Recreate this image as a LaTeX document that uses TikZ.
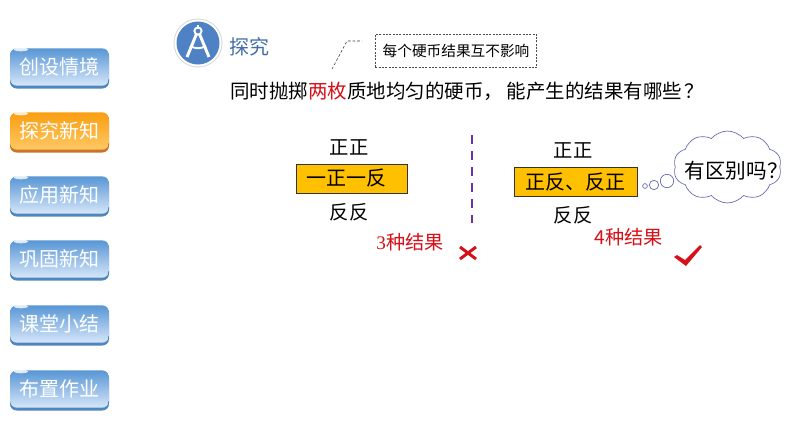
\documentclass[tikz,border=0pt]{standalone}
\usepackage{fontspec}
\setmainfont{Noto Sans CJK SC}
\newfontfamily\numfont{Liberation Serif}
\usetikzlibrary{
  arrows.meta,
  positioning,
  shapes.symbols
}
\definecolor{navblue}{RGB}{88,150,212}
\definecolor{navlight}{RGB}{214,230,250}
\definecolor{navedge}{RGB}{78,134,190}
\definecolor{navorange}{RGB}{250,158,16}
\definecolor{navpale}{RGB}{255,200,100}
\definecolor{navrust}{RGB}{205,115,40}
\definecolor{boxgold}{RGB}{255,192,0}
\definecolor{iconblue}{RGB}{78,130,196}
\definecolor{marksred}{RGB}{214,16,24}
\definecolor{divider}{RGB}{112,48,160}
\tikzset{
  navbtn/.style={rounded corners=5pt, minimum width=74pt, minimum height=28pt,
    inner sep=0pt, font=\fontsize{15}{15}\selectfont, text=white},
  answer/.style={inner sep=0pt, font=\fontsize{14.5}{15}\selectfont},
  goldbox/.style={draw=black!80, fill=boxgold, inner sep=0pt, minimum height=22pt,
    font=\fontsize{15}{15}\selectfont},
  result/.style={inner sep=0pt, text=marksred, font=\fontsize{14.4}{15}\selectfont},
  bubble/.style={circle, draw=black!50!blue!60, fill=white, inner sep=0pt, line width=0.5pt}
}
\begin{document}
\begin{tikzpicture}[x=0.75pt, y=-0.75pt]
\useasboundingbox (0,0) rectangle (794,447);
\fill[white] (0,0) rectangle (794,447);

% Left menu
\foreach \name/\ypos/\label/\base/\pale/\edge in {
    nava/67/创设情境/navblue/navlight/navedge,
    navb/131/探究新知/navorange/navpale/navrust,
    navc/195/应用新知/navblue/navlight/navedge,
    navd/259/巩固新知/navblue/navlight/navedge,
    nave/324/课堂小结/navblue/navlight/navedge,
    navf/389/布置作业/navblue/navlight/navedge} {
  \fill[\edge, rounded corners=5pt] (10,\ypos-18) rectangle (109,\ypos+21.5);
  \node[navbtn, top color=\base, bottom color=\pale] (\name) at (59.5,\ypos) {\label};
  \fill[white, opacity=0.8] (21,\ypos-17.5) ellipse (7 and 1.8);
}

% Icon and heading
\fill[black!15] (198,43) circle (24.5);
\fill[white] (198,43) circle (23.5);
\fill[iconblue] (198,43) circle (21.5);
\draw[white, line width=1.6pt] (198,25) -- (198,29);
\draw[white, line width=1.4pt] (198,31) circle (3.6);
\draw[white, line width=2.2pt] (196.5,34) -- (187,57);
\draw[white, line width=2.2pt] (199.5,34) -- (209,57);
\draw[white, line width=1.4pt] (190,46) .. controls (196,49) and (200,49) .. (206,46);
\node[inner sep=0pt, text=iconblue!85!black, font=\fontsize{15}{15}\selectfont] (heading) at (249,47) {探究};

% Note
\node[draw=black!70, dash pattern=on 1.5pt off 1pt, line width=0.6pt, inner sep=0pt, minimum width=121pt, minimum height=25pt,
      font=\fontsize{11}{12}\selectfont] (note) at (456,51) {每个硬币结果互不影响};
\draw[black!80, dash pattern=on 2pt off 1.5pt, line width=0.4pt] (332,69) -- (347,41) -- (362,41);

% Question
\node[inner sep=0pt, font=\fontsize{14.6}{16}\selectfont] (question) at (467,91)
  {同时抛掷\textcolor{marksred}{两枚}质地均匀的硬币，\kern3pt 能产生的结果有哪些\kern1.5pt ？};

% Left answer
\node[answer] (lefttop) at (349,147) {正正};
\node[goldbox, minimum width=83pt] (leftbox) at (351.5,178.5) {\kern-7pt 一正一反};
\node[answer] (leftbot) at (349,212) {反反};
\node[result] (leftres) at (410,242) {{\numfont 3}种结果};

% Divider
\draw[divider, line width=2pt, dash pattern=on 7pt off 5pt] (472,135) -- (472,223);

% Right answer
\node[answer] (righttop) at (573,150) {正正};
\node[goldbox, minimum width=92pt] (rightbox) at (575.5,182) {正反、反正};
\node[answer] (rightbot) at (573,215) {反反};
\node[result] (rightres) at (628.5,237) {4种结果};

% Thought cloud
\node[cloud, cloud puffs=10, cloud puff arc=100, aspect=1.5, draw=black!50!blue!60, fill=white, inner sep=0pt,
      minimum width=81pt, minimum height=54pt, line width=0.5pt] (cloud) at (727.5,167) {};
\node[inner sep=0pt, font=\fontsize{15.5}{15}\selectfont] (cloudtext) at (736,171) {有区别吗？};
\node[bubble, minimum size=3.6pt] (buba) at (645,186) {};
\node[bubble, minimum size=7pt] (bubb) at (654,185) {};
\node[bubble, minimum size=10pt] (bubc) at (667,181) {};

% Marks
\draw[marksred, line width=2.2pt] (460,247) -- (476,259);
\draw[marksred, line width=2.2pt] (476,247) -- (460,259);
\fill[marksred] (674,257) -- (677,255) -- (685,260) -- (700,245) -- (702,247) -- (686,266) -- cycle;

\end{tikzpicture}
\end{document}
